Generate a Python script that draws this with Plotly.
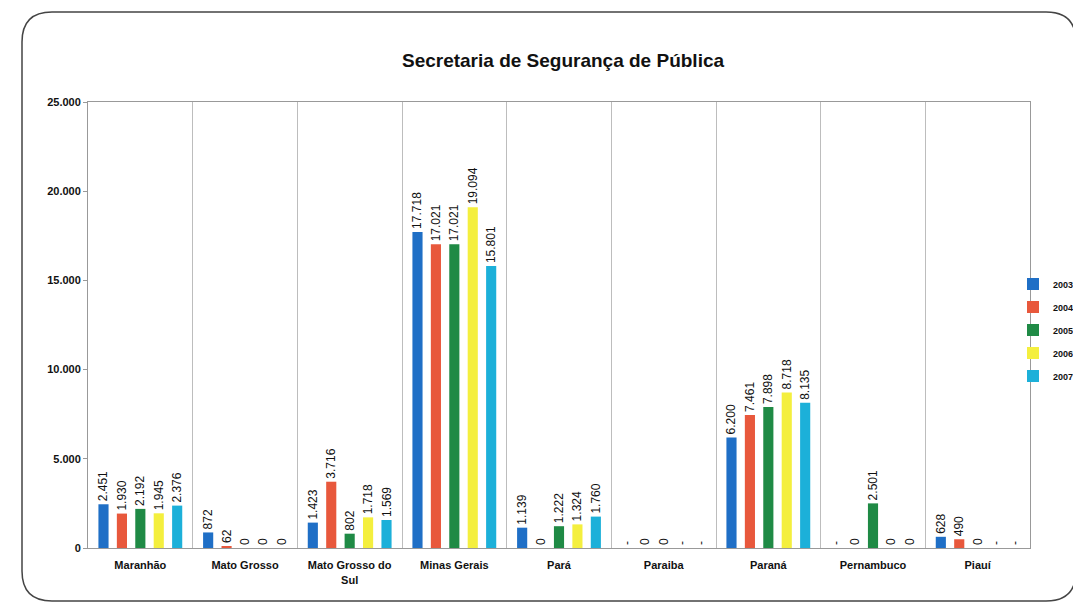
import plotly.graph_objects as go

categories = ["Maranhão", "Mato Grosso", "Mato Grosso do<br>Sul", "Minas Gerais", "Pará",
              "Paraiba", "Paraná", "Pernambuco", "Piauí"]
years = ["2003", "2004", "2005", "2006", "2007"]
v2003 = [2451, 872, 1423, 17718, 1139, None, 6200, None, 628]
v2004 = [1930, 62, 3716, 17021, 0, 0, 7461, 0, 490]
v2005 = [2192, 0, 802, 17021, 1222, 0, 7898, 2501, 0]
v2006 = [1945, 0, 1718, 19094, 1324, None, 8718, 0, None]
v2007 = [2376, 0, 1569, 15801, 1760, None, 8135, 0, None]
series = [v2003, v2004, v2005, v2006, v2007]
colors = ["#1f6fc6", "#e8583c", "#1f8a45", "#f4ef3e", "#1cb0d9"]
ytickvals = [0, 5000, 10000, 15000, 20000, 25000]
yticktext = ["0", "5.000", "10.000", "15.000", "20.000", "25.000"]


def fmt(v):
    if v is None:
        return "-"
    return f"{v:,}".replace(",", ".")


fig = go.Figure()
for name, vals, col in zip(years, series, colors):
    fig.add_bar(
        x=categories,
        y=[0 if v is None else v for v in vals],
        name=name,
        legendgroup=name,
        marker=dict(color=col, line=dict(width=0)),
        text=[fmt(v) for v in vals],
        textposition="outside",
        textangle=-90,
        constraintext="none",
        textfont=dict(family="Liberation Sans, Arial", size=12, color="#111"),
        cliponaxis=False,
    )

# page body has an 8px margin: work in screen pixels and subtract it
OFF = 8
W, H = 1081 - OFF, 606 - OFF
L = 88 - OFF
T = 102 - OFF
R = W - (1030 - OFF)
B = H - (548 - OFF)
pw, ph = W - L - R, H - T - B


def px(x):
    return (x - OFF - L) / pw


def py(y):
    return (H - B - (y - OFF)) / ph


x0, x1, y0, y1, r = 22, 1076, 12, 601, 30
path = (f"M {px(x0 + r)} {py(y0)} L {px(x1 - r)} {py(y0)} "
        f"Q {px(x1)} {py(y0)} {px(x1)} {py(y0 + r)} L {px(x1)} {py(y1 - r)} "
        f"Q {px(x1)} {py(y1)} {px(x1 - r)} {py(y1)} L {px(x0 + r)} {py(y1)} "
        f"Q {px(x0)} {py(y1)} {px(x0)} {py(y1 - r)} L {px(x0)} {py(y0 + r)} "
        f"Q {px(x0)} {py(y0)} {px(x0 + r)} {py(y0)} Z")

fig.update_layout(
    width=W, height=H,
    margin=dict(l=L, r=R, t=T, b=B, autoexpand=False),
    paper_bgcolor="white", plot_bgcolor="white",
    barmode="group", bargap=0.12, bargroupgap=0.45,
    font=dict(family="Liberation Sans, Arial", color="#111"),
    title=dict(text="<b>Secretaria de Segurança de Pública</b>", x=(563 - OFF) / W, xanchor="center",
               y=1 - (60 - OFF) / H, yanchor="middle", font=dict(size=19, color="#111")),
    legend=dict(x=px(1013), y=py(330), xanchor="left", yanchor="middle",
                font=dict(size=9, color="#111", family="Liberation Sans, Arial", weight="bold"),
                bgcolor="rgba(0,0,0,0)", borderwidth=0, itemwidth=30, tracegroupgap=4),
    shapes=[dict(type="path", path=path, xref="paper", yref="paper",
                 line=dict(color="#444", width=1.5), layer="below")],
    showlegend=True,
)
fig.update_xaxes(
    tickson="boundaries", showgrid=True, gridcolor="#bdbdbd", gridwidth=1,
    showline=True, linecolor="#999", mirror=True, ticks="",
    tickfont=dict(size=11, family="Liberation Sans, Arial", color="#111"),
    tickprefix="<b>", ticksuffix="</b>", ticklabelstandoff=7,
)
fig.update_yaxes(
    range=[0, 25000], tickvals=ytickvals, ticktext=["<b>" + t + "</b>" for t in yticktext],
    showgrid=False, showline=True, linecolor="#999", mirror=True,
    ticks="outside", ticklen=4, tickcolor="#999",
    tickfont=dict(size=11, family="Liberation Sans, Arial", color="#111"),
    zeroline=False,
)
fig.write_html("out.html")
